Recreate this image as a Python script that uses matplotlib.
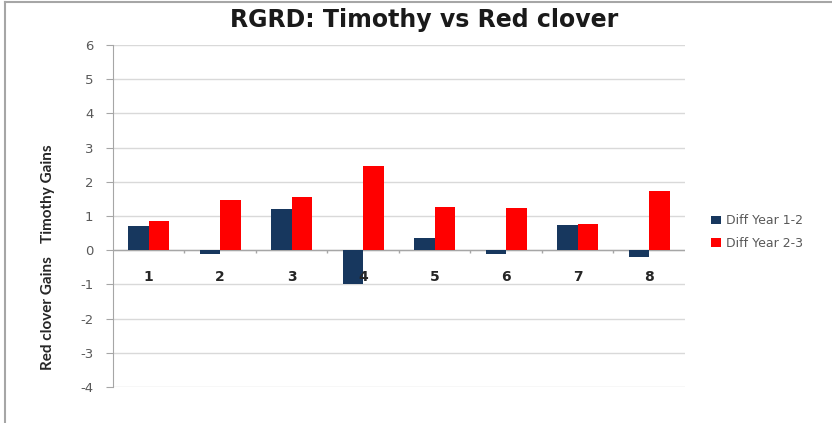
import numpy as np
import matplotlib.pyplot as plt
from matplotlib.lines import Line2D

# values
categories = ['1', '2', '3', '4', '5', '6', '7', '8']
diff_12 = [0.72, -0.12, 1.2, -1.0, 0.35, -0.1, 0.74, -0.2]
diff_23 = [0.86, 1.48, 1.56, 2.46, 1.27, 1.24, 0.77, 1.74]
yticks = list(range(-4, 7))

navy = '#17375E'
red = '#FF0000'
grid_c = '#D9D9D9'
text_c = '#595959'

plt.rcParams['font.family'] = ['Lato', 'DejaVu Sans']

fig = plt.figure(figsize=(8.32, 4.23), dpi=100)
ax = fig.add_axes([0.1358, 0.0851, 0.6875, 0.8085])

x = np.arange(1, len(categories) + 1)
w = 0.287
ax.bar(x - w / 2, diff_12, width=w, color=navy, label='Diff Year 1-2', zorder=3)
ax.bar(x + w / 2, diff_23, width=w, color=red, label='Diff Year 2-3', zorder=3)

ax.set_xlim(0.5, len(categories) + 0.5)
ax.set_ylim(-4, 6)
ax.set_yticks(yticks)
ax.set_yticklabels([str(t) for t in yticks], color=text_c, fontsize=9.5,
                   family='DejaVu Sans')
ax.tick_params(axis='y', length=5, width=0.8, color='#A6A6A6', pad=9)
ax.set_xticks([])
ax.grid(axis='y', color=grid_c, linewidth=1, zorder=0)

for s in ['top', 'right', 'bottom']:
    ax.spines[s].set_visible(False)
ax.spines['left'].set_color('#A6A6A6')

# category axis at zero
ax.axhline(0, color='#A6A6A6', linewidth=1, zorder=2)
bounds = np.arange(0.5, len(categories) + 1)
ax.vlines(bounds[1:-1], -0.07, 0, color='#A6A6A6', linewidth=1, zorder=2)
for xi, lab in zip(x, categories):
    ax.annotate(lab, (xi, 0), xytext=(0, -14), textcoords='offset points',
                ha='center', va='top', fontsize=10, fontweight='bold',
                color='#262626', family='DejaVu Sans')

fig.text(0.510, 0.953, 'RGRD: Timothy vs Red clover', ha='center', va='center',
         fontsize=17, fontweight='bold', color='#1a1a1a', family='DejaVu Sans')

fig.text(0.058, 1 - 194 / 423, 'Timothy Gains', rotation=90, ha='center',
         va='center', fontsize=11, fontweight='bold', color='#262626')
fig.text(0.058, 1 - 313 / 423, 'Red clover Gains', rotation=90, ha='center',
         va='center', fontsize=11, fontweight='bold', color='#262626')

ax.legend(loc='center left', bbox_to_anchor=(1.025, 0.453), frameon=False,
          prop={'family': 'DejaVu Sans', 'size': 9}, labelcolor=text_c,
          handlelength=0.8, handleheight=0.7, handletextpad=0.4,
          labelspacing=0.75)

# chart border from the screenshot
fig.add_artist(Line2D([0.006, 0.006], [0, 0.995], transform=fig.transFigure,
                      color='#A6A6A6', linewidth=1.5))
fig.add_artist(Line2D([0.006, 1], [0.995, 0.995], transform=fig.transFigure,
                      color='#A6A6A6', linewidth=1.5))

fig.savefig('out.png', dpi=100)
